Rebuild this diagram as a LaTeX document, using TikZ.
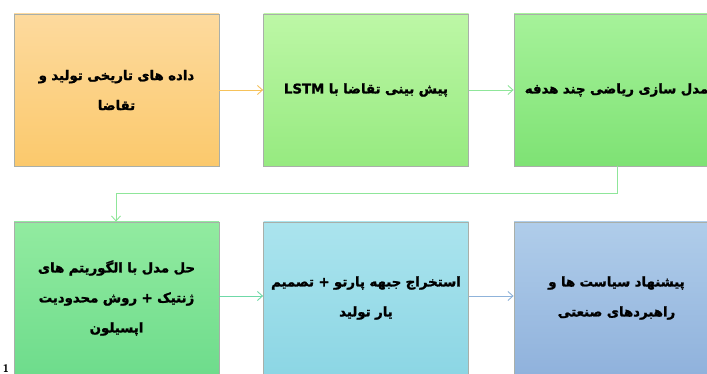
\documentclass[tikz,border=0pt]{standalone}
\usepackage{fontspec}
\TeXXeTstate=1
\newfontfamily\arabicfont[Script=Arabic, BoldFeatures={FakeBold=1.6}]{DejaVu Sans}
\usetikzlibrary{arrows.meta}
\definecolor{borderc}{HTML}{A9AFA9}
\definecolor{oraT}{HTML}{FDDA9E}
\definecolor{oraB}{HTML}{FBC96C}
\definecolor{gr2T}{HTML}{BDF7A6}
\definecolor{gr2B}{HTML}{96EA80}
\definecolor{gr3T}{HTML}{A6F29A}
\definecolor{gr3B}{HTML}{7EE274}
\definecolor{gr4T}{HTML}{92EBA0}
\definecolor{gr4B}{HTML}{6EDC8C}
\definecolor{cyT}{HTML}{ABE4EE}
\definecolor{cyB}{HTML}{8CD6E4}
\definecolor{blT}{HTML}{B0CDEA}
\definecolor{blB}{HTML}{90B2DC}
\definecolor{arOra}{HTML}{F6C25A}
\definecolor{arGr}{HTML}{8FE69A}
\definecolor{arTeal}{HTML}{6FD9A8}
\definecolor{arBl}{HTML}{8FB3DA}
\tikzset{
  stepbox/.style={draw=borderc, line width=0.8pt, minimum width=205pt, minimum height=152pt,
    text width=200pt, inner sep=0pt, align=center, font=\arabicfont\bfseries\fontsize{13.3}{30}\selectfont},
  flowarrow/.style={line width=0.9pt, -{Straight Barb[length=5pt,width=9pt]}},
}
\begin{document}
\begin{tikzpicture}[x=1pt,y=-1pt]
\useasboundingbox (0,0) rectangle (707,374);
\clip (0,0) rectangle (707,374);
\fill[white] (0,0) rectangle (707,374);
\node[stepbox, top color=oraT, bottom color=oraB] (b1) at (116.5,90) {\beginR داده های تاریخی تولید و\endR\\\beginR تقاضا\endR};
\node[stepbox, top color=gr2T, bottom color=gr2B] (b2) at (366,90) {\beginR پیش بینی تقاضا با \beginL LSTM\endL\endR};
\node[stepbox, top color=gr3T, bottom color=gr3B] (b3) at (616.5,90) {\beginR مدل سازی ریاضی چند هدفه\endR};
\node[stepbox, top color=gr4T, bottom color=gr4B] (b4) at (116.5,298) {\beginR حل مدل با الگوریتم های\endR\\\beginR ژنتیک + روش محدودیت\endR\\\beginR اپسیلون\endR};
\node[stepbox, top color=cyT, bottom color=cyB] (b5) at (366,298) {\beginR استخراج جبهه پارتو + تصمیم\endR\\\beginR یار تولید\endR};
\node[stepbox, top color=blT, bottom color=blB] (b6) at (616.5,298) {\beginR پیشنهاد سیاست ها و\endR\\\beginR راهبردهای صنعتی\endR};
\coordinate (k1) at (617,193);
\coordinate (k2) at (116,193);
\draw[flowarrow, draw=arOra] (b1.east) -- (b2.west);
\draw[flowarrow, draw=arGr] (b2.east) -- (b3.west);
\draw[flowarrow, draw=arGr] (b3.south -| k1) -- (k1) -- (k2) -- (b4.north -| k2);
\draw[flowarrow, draw=arTeal] ([yshift=2pt]b4.east) -- ([yshift=2pt]b5.west);
\draw[flowarrow, draw=arBl] ([yshift=2pt]b5.east) -- ([yshift=2pt]b6.west);
\node[font=\sffamily\bfseries\fontsize{11}{11}\selectfont, inner sep=0pt, anchor=base] (pg) at (6,372.5) {1};
\end{tikzpicture}
\end{document}
